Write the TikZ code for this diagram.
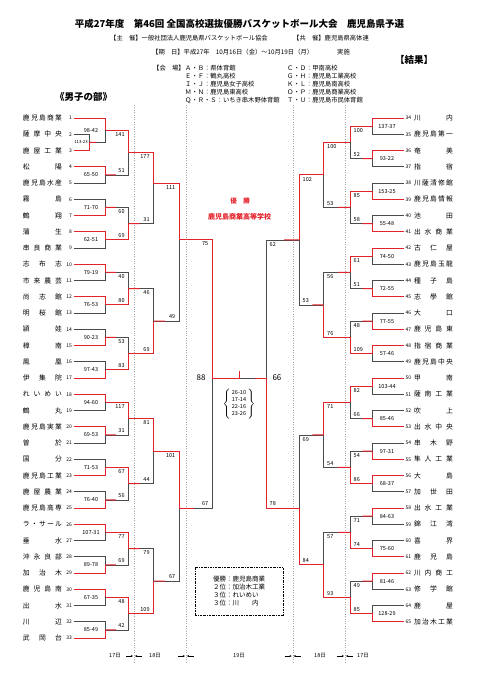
\documentclass[tikz,border=0pt]{standalone}
\usepackage{fontspec}
\setmainfont{Noto Sans CJK JP}
\usetikzlibrary{calc,positioning,arrows.meta}
\definecolor{bred}{RGB}{228,34,42}
\definecolor{bgray}{RGB}{75,75,75}
\tikzset{
	win/.style={draw=bred,line width=0.9pt},
	lose/.style={draw=bgray,line width=0.6pt},
	sc/.style={font=\fontsize{5.5}{6}\selectfont,inner sep=0pt},
	tno/.style={font=\fontsize{5}{6}\selectfont,inner sep=0pt},
	team/.style={font=\fontsize{6.8}{7}\selectfont,inner sep=0pt},
	hdr/.style={font=\fontsize{6.3}{7}\selectfont,inner sep=0pt},
	dayline/.style={draw=gray!70,line width=0.4pt,dotted},
	dayarr/.style={-{Stealth[length=2.2pt,width=2pt]},line width=0.4pt,shorten >=1pt}
}
% row position (pt from top)
\newcommand\Y[1]{{118+16.25*(#1-1)}}
% spread a team name over a fixed width
\newcommand\spr[1]{\hbox to 39pt{\expandafter\sprA#1\sprEnd}}
\def\sprEnd{}
\def\sprA#1{#1\sprB}
\def\sprB#1{\ifx#1\sprEnd\else\hfill#1\expandafter\sprB\fi}
% first round: [score shift]{name}{x}{row}{top}{bottom}{winner}{score}
\newcommand\first[8][14.5]{%
	\coordinate (#2) at (#3,\Y{#4});
	\ifnum#7=1 \def\bw{#5}\def\bl{#6}\else\def\bw{#6}\def\bl{#5}\fi
	\draw[lose] (\bl) -- (\bl -| #2) -- (#2);
	\draw[win] (\bw) -- (\bw -| #2) -- (#2);
	\node[sc] at ($(#2)+(\sgn*#1,0)$) {#8};
}
% later rounds: {name}{x}{row}{top}{bottom}{winner}{top score}{bottom score}
\newcommand\bout[8]{%
	\coordinate (#1) at (#2,\Y{#3});
	\ifnum#6=1 \def\bw{#4}\def\bl{#5}\else\def\bw{#5}\def\bl{#4}\fi
	\draw[lose] (\bl) -- (\bl -| #1) -- (#1);
	\draw[win] (\bl) -- ($(\bl)!.45!(\bl -| #1)$);
	\draw[win] (\bw) -- (\bw -| #1) -- (#1);
	\node[sc,anchor=\lbA] at ($(#4 -| #1)+(\sgn*3.5,2)$) {#7};
	\node[sc,anchor=\lbB] at ($(#5 -| #1)+(\sgn*3.5,-2)$) {#8};
}

\begin{document}
\begin{tikzpicture}[x=1pt,y=-1pt]
	\fill[white] (0,0) rectangle (481,680);
	\useasboundingbox (0,0) rectangle (481,680);

	% header
	\node[font=\bfseries\fontsize{9.5}{10}\selectfont] (title) at (239.5,24) {平成27年度　第46回 全国高校選抜優勝バスケットボール大会　鹿児島県予選};
	\node[hdr,anchor=west] (host) at (110,38) {【主　催】一般社団法人鹿児島県バスケットボール協会};
	\node[hdr,anchor=west] (cohost) at (293,38) {【共　催】鹿児島県高体連};
	\node[hdr,anchor=west] (date) at (152,52) {【期　日】平成27年　10月16日（金）～10月19日（月）};
	\node[hdr,anchor=west] (held) at (337,52) {実施};
	\node[hdr,anchor=west] (venue) at (153,67.7) {【会　場】};
	\foreach \j/\va/\vb in {0/Ａ・Ｂ：県体育館/Ｃ・Ｄ：甲南高校,1/Ｅ・Ｆ：鶴丸高校/Ｇ・Ｈ：鹿児島工業高校,2/Ｉ・Ｊ：鹿児島女子高校/Ｋ・Ｌ：鹿児島南高校,3/Ｍ・Ｎ：鹿児島東高校/Ｏ・Ｐ：鹿児島商業高校,4/Ｑ・Ｒ・Ｓ：いちき串木野体育館/Ｔ・Ｕ：鹿児島市民体育館}{
		\node[hdr,anchor=west] (va\j) at (185,67.7+8.2*\j) {\va};
		\node[hdr,anchor=west] (vb\j) at (287,67.7+8.2*\j) {\vb};
	}
	\node[font=\bfseries\fontsize{9.5}{10}\selectfont] (result) at (414,60) {【結果】};
	\node[font=\bfseries\fontsize{9.5}{10}\selectfont] (boys) at (83.5,97) {《男子の部》};

	% day lines
	\foreach \dx/\dn in {134/dA,186/dB,292.7/dC,345/dD}{
		\coordinate (\dn t) at (\dx,105);
		\coordinate (\dn b) at (\dx,662);
		\coordinate (\dn l) at (\dx-8,656);
		\coordinate (\dn r) at (\dx+8,656);
		\draw[dayline] (\dn t) -- (\dn b);
		\draw[dayarr] (\dn l) -- (\dn l -| \dn t);
		\draw[dayarr] (\dn r) -- (\dn r -| \dn t);
	}
	\foreach \dx/\dd [count=\k] in {115/17日,155/18日,239/19日,320/18日,363/17日}
		\node[sc] (day\k) at (\dx,656) {\dd};

	% teams
	\foreach \i/\nm in {1/鹿児島商業,2/薩摩中央,3/鹿屋工業,4/松陽,5/鹿児島水産,6/霧島,7/鶴翔,8/蒲生,9/串良商業,10/志布志,11/市来農芸,12/尚志館,13/明桜館,14/頴娃,15/樟南,16/鳳凰,17/伊集院,18/れいめい,19/鶴丸,20/鹿児島実業,21/曽於,22/国分,23/鹿児島工業,24/鹿屋農業,25/鹿児島高専,26/ラ・サール,27/垂水,28/沖永良部,29/加治木,30/鹿児島南,31/出水,32/川辺,33/武岡台}{
		\node[team] (n\i) at (42.5,\Y{\i}) {\spr{\nm}};
		\node[tno,anchor=east] (k\i) at (72,\Y{\i}) {\i};
		\coordinate (t\i) at (73.5,\Y{\i});
	}
	\foreach \i/\nm in {34/川内,35/鹿児島第一,36/奄美,37/指宿,38/川薩清修館,39/鹿児島情報,40/池田,41/出水商業,42/古仁屋,43/鹿児島玉龍,44/種子島,45/志學館,46/大口,47/鹿児島東,48/指宿商業,49/鹿児島中央,50/甲南,51/薩南工業,52/吹上,53/出水中央,54/串木野,55/隼人工業,56/大島,57/加世田,58/出水工業,59/錦江湾,60/喜界,61/鹿児島,62/川内商工,63/修学館,64/鹿屋,65/加治木工業}{
		\node[team] (n\i) at (433.5,\Y{\i-33}) {\spr{\nm}};
		\node[tno,anchor=west] (k\i) at (405.5,\Y{\i-33}) {\i};
		\coordinate (t\i) at (404,\Y{\i-33});
	}

	% left bracket
	\def\sgn{-1}\def\lbA{north east}\def\lbB{south east}
	\first[8]{p23}{89}{2.5}{t2}{t3}{2}{\fontsize{4.3}{5}\selectfont 113-23}
	\first{m1}{105.5}{1.75}{t1}{p23}{1}{98-42}
	\draw[win] (p23) -- ($(p23)!.45!(p23 -| m1)$);
	\first{m4}{105.5}{4.5}{t4}{t5}{1}{65-50}
	\first{m6}{105.5}{6.5}{t6}{t7}{2}{71-70}
	\first{m8}{105.5}{8.5}{t8}{t9}{1}{62-51}
	\first{m10}{105.5}{10.5}{t10}{t11}{1}{79-19}
	\first{m12}{105.5}{12.5}{t12}{t13}{1}{76-53}
	\first{m14}{105.5}{14.5}{t14}{t15}{2}{90-23}
	\first{m16}{105.5}{16.5}{t16}{t17}{2}{97-43}
	\first{m18}{105.5}{18.5}{t18}{t19}{1}{94-60}
	\first{m20}{105.5}{20.5}{t20}{t21}{1}{69-53}
	\first{m22}{105.5}{22.5}{t22}{t23}{2}{71-53}
	\first{m24}{105.5}{24.5}{t24}{t25}{2}{76-40}
	\first{m26}{105.5}{26.5}{t26}{t27}{1}{107-31}
	\first{m28}{105.5}{28.5}{t28}{t29}{2}{89-78}
	\first{m30}{105.5}{30.5}{t30}{t31}{1}{67-35}
	\first{m32}{105.5}{32.5}{t32}{t33}{2}{85-49}

	\bout{s1}{128.3}{3.125}{m1}{m4}{1}{141}{51}
	\bout{s2}{128.3}{7.5}{m6}{m8}{2}{60}{69}
	\bout{s3}{128.3}{11.5}{m10}{m12}{2}{40}{80}
	\bout{s4}{128.3}{15.5}{m14}{m16}{2}{53}{83}
	\bout{s5}{128.3}{19.5}{m18}{m20}{1}{117}{31}
	\bout{s6}{128.3}{23.5}{m22}{m24}{1}{67}{56}
	\bout{s7}{128.3}{27.5}{m26}{m28}{1}{77}{69}
	\bout{s8}{128.3}{31.5}{m30}{m32}{1}{48}{42}

	\bout{q1}{153.3}{5}{s1}{s2}{1}{177}{31}
	\bout{q2}{153.3}{13.5}{s3}{s4}{2}{46}{69}
	\bout{q3}{153.3}{21.5}{s5}{s6}{1}{81}{44}
	\bout{q4}{153.3}{29.5}{s7}{s8}{2}{79}{109}

	\bout{h1}{179}{8.5}{q1}{q2}{1}{111}{49}
	\bout{h2}{179}{25}{q3}{q4}{1}{101}{67}

	\bout{ls}{212}{17}{h1}{h2}{1}{75}{67}

	% right bracket
	\def\sgn{1}\def\lbA{north west}\def\lbB{south west}
	\first{r34}{372.5}{1.5}{t34}{t35}{1}{137-37}
	\first{r36}{372.5}{3.5}{t36}{t37}{1}{93-22}
	\first{r38}{372.5}{5.5}{t38}{t39}{2}{153-25}
	\first{r40}{372.5}{7.5}{t40}{t41}{2}{55-48}
	\first{r42}{372.5}{9.5}{t42}{t43}{1}{74-50}
	\first{r44}{372.5}{11.5}{t44}{t45}{2}{72-55}
	\first{r46}{372.5}{13.5}{t46}{t47}{2}{77-55}
	\first{r48}{372.5}{15.5}{t48}{t49}{1}{57-46}
	\first{r50}{372.5}{17.5}{t50}{t51}{1}{103-44}
	\first{r52}{372.5}{19.5}{t52}{t53}{2}{85-46}
	\first{r54}{372.5}{21.5}{t54}{t55}{2}{97-31}
	\first{r56}{372.5}{23.5}{t56}{t57}{1}{68-37}
	\first{r58}{372.5}{25.5}{t58}{t59}{1}{84-63}
	\first{r60}{372.5}{27.5}{t60}{t61}{2}{75-60}
	\first{r62}{372.5}{29.5}{t62}{t63}{1}{81-46}
	\first{r64}{372.5}{31.5}{t64}{t65}{2}{128-29}

	\bout{u1}{350}{2.5}{r34}{r36}{1}{100}{52}
	\bout{u2}{350}{6.5}{r38}{r40}{1}{85}{58}
	\bout{u3}{350}{10.5}{r42}{r44}{1}{61}{51}
	\bout{u4}{350}{14.5}{r46}{r48}{2}{48}{109}
	\bout{u5}{350}{18.5}{r50}{r52}{1}{82}{66}
	\bout{u6}{350}{22.5}{r54}{r56}{2}{54}{86}
	\bout{u7}{350}{26.5}{r58}{r60}{2}{71}{74}
	\bout{u8}{350}{30.5}{r62}{r64}{2}{49}{85}

	\bout{v1}{323.5}{4.5}{u1}{u2}{1}{100}{53}
	\bout{v2}{323.5}{12.5}{u3}{u4}{2}{56}{76}
	\bout{v3}{323.5}{20.5}{u5}{u6}{1}{71}{54}
	\bout{v4}{323.5}{28.5}{u7}{u8}{2}{57}{93}

	\bout{w1}{299}{8.5}{v1}{v2}{1}{102}{53}
	\bout{w2}{299}{25}{v3}{v4}{2}{69}{84}

	\bout{rs}{266}{17}{w1}{w2}{2}{62}{78}

	% final
	\coordinate (fin) at (239,\Y{17});
	\coordinate (champ) at ($(fin)+(0,-7)$);
	\draw[lose] (rs) -- (fin);
	\draw[win] (rs) -- ($(rs)!.4!(fin)$);
	\draw[win] (ls) -- (fin) -- (champ);
	\node[font=\fontsize{8}{9}\selectfont,anchor=east] (fl) at ($(ls)+(-3,0)$) {88};
	\node[font=\fontsize{8}{9}\selectfont,anchor=west] (fr) at ($(rs)+(3,0)$) {66};
	\node[font=\fontsize{5.5}{7}\selectfont,inner sep=0pt] (qs) at (239,404)
		{$\left\{\,\vcenter{\hbox{\begin{tabular}{@{}c@{}}26-10\\17-14\\22-16\\23-26\end{tabular}}}\,\right\}$};

	\node[font=\bfseries\fontsize{6.5}{7}\selectfont,text=bred] (winA) at (240,201) {優　勝};
	\node[font=\bfseries\fontsize{7}{8}\selectfont,text=bred] (winB) at (239.5,217) {鹿児島商業高等学校};

	% summary box
	\node[draw,line width=0.8pt,dash pattern=on 2pt off 1pt on 0.6pt off 1pt,minimum width=88pt,minimum height=48pt] (res) at (239,591) {};
	\node[font=\fontsize{6.5}{8}\selectfont,align=left,inner sep=0pt] (restxt) at (res) {優勝：鹿児島商業\\２位：加治木工業\\３位：れいめい\\３位：川　　内};
\end{tikzpicture}
\end{document}
